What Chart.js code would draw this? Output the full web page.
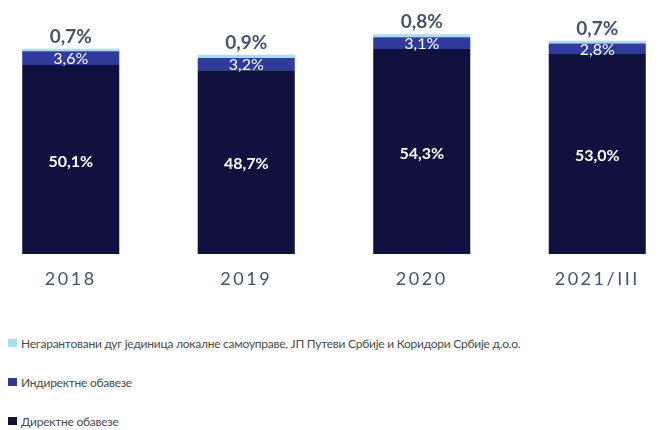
<!DOCTYPE html>
<html>
<head>
<meta charset="utf-8">
<script src="https://cdn.jsdelivr.net/npm/chart.js@4/dist/chart.umd.min.js"></script>
<style>
  html, body { margin: 0; padding: 0; background: #fff; }
  #wrap { position: relative; width: 660px; height: 430px; overflow: hidden; }
  #chart { position: absolute; left: -17px; top: 0; }
  .legend-row { position: absolute; left: 8px; height: 16px; display: flex; align-items: center;
    font-family: Lato, "Noto Sans", sans-serif; font-size: 12px; letter-spacing: -0.25px;
    color: #4a4a4a; white-space: nowrap; }
  .legend-box { width: 9px; height: 8px; margin-right: 4px; }
</style>
</head>
<body>
<div id="wrap">
  <canvas id="chart" width="702" height="300"></canvas>
  <div id="legend"></div>
</div>
<script>
// categories and series (% of GDP)
const years = ["2018", "2019", "2020", "2021/III"];
const directDebt = [50.1, 48.7, 54.3, 53.0];
const indirectDebt = [3.6, 3.2, 3.1, 2.8];
const nonGuaranteed = [0.7, 0.9, 0.8, 0.7];

const seriesNames = [
  "Директне обавезе",
  "Индиректне обавезе",
  "Негарантовани дуг јединица локалне самоуправе, ЈП Путеви Србије и Коридори Србије д.о.о."
];
const seriesColors = ["#11113f", "#2e3b9b", "#a8ddf2"];

const fmt = v => v.toFixed(1).replace(".", ",") + "%";

// letter spacing for the axis labels only
const spacingPlugin = {
  id: "spacing",
  beforeDraw(chart) { chart.ctx.letterSpacing = "2.5px"; },
  beforeDatasetsDraw(chart) { chart.ctx.letterSpacing = "0px"; }
};

const labelPlugin = {
  id: "barLabels",
  afterDatasetsDraw(chart) {
    const ctx = chart.ctx;
    ctx.save();
    ctx.textAlign = "center";
    chart.data.datasets.forEach((ds, di) => {
      const meta = chart.getDatasetMeta(di);
      meta.data.forEach((bar, i) => {
        const v = ds.data[i];
        if (di === 0) {
          ctx.font = "bold 16px Lato, 'Noto Sans', sans-serif";
          ctx.fillStyle = "#ffffff";
          ctx.textBaseline = "middle";
          ctx.fillText(fmt(v), bar.x, (bar.y + bar.base) / 2 + 2);
        } else if (di === 1) {
          ctx.font = "16px Lato, 'Noto Sans', sans-serif";
          ctx.fillStyle = "#ffffff";
          ctx.textBaseline = "middle";
          ctx.fillText(fmt(v), bar.x, (bar.y + bar.base) / 2 + 1);
        } else {
          ctx.font = "bold 19px Lato, 'Noto Sans', sans-serif";
          ctx.fillStyle = "#44546a";
          ctx.textBaseline = "alphabetic";
          ctx.fillText(fmt(v), bar.x, bar.y - 6);
        }
      });
    });
    ctx.restore();
  }
};

new Chart(document.getElementById("chart"), {
  type: "bar",
  data: {
    labels: years,
    datasets: [
      { label: seriesNames[0], data: directDebt, backgroundColor: seriesColors[0] },
      { label: seriesNames[1], data: indirectDebt, backgroundColor: seriesColors[1] },
      { label: seriesNames[2], data: nonGuaranteed, backgroundColor: seriesColors[2] }
    ]
  },
  options: {
    responsive: false,
    devicePixelRatio: 1,
    animation: false,
    layout: { padding: { top: 20, left: 0, right: 0, bottom: 0 } },
    datasets: { bar: { categoryPercentage: 1, barPercentage: 0.553, borderWidth: 0 } },
    plugins: { legend: { display: false }, tooltip: { enabled: false } },
    scales: {
      x: {
        stacked: true,
        grid: { display: false },
        border: { display: false },
        afterFit: s => { s.height = 46; },
        ticks: {
          padding: 6,
          color: "#44546a",
          font: { family: "Lato, 'Noto Sans', sans-serif", size: 18 }
        }
      },
      y: { stacked: true, display: false, min: 0, max: 62 }
    }
  },
  plugins: [spacingPlugin, labelPlugin]
});

// legend, top series first
const legend = document.getElementById("legend");
const rowCenters = [343, 382, 421];
[2, 1, 0].forEach((si, r) => {
  const row = document.createElement("div");
  row.className = "legend-row";
  row.style.top = (rowCenters[r] - 8) + "px";
  const box = document.createElement("span");
  box.className = "legend-box";
  box.style.background = seriesColors[si];
  row.appendChild(box);
  row.appendChild(document.createTextNode(seriesNames[si]));
  legend.appendChild(row);
});
</script>
</body>
</html>
